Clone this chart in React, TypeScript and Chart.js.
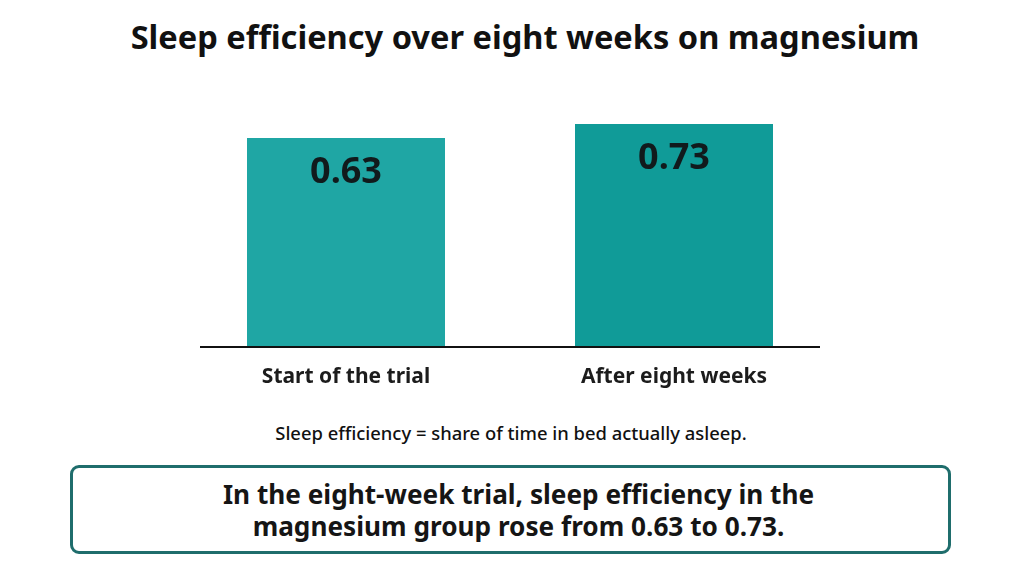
import { useEffect, useRef } from 'react';
import { Chart, ChartConfiguration, registerables } from 'chart.js';

Chart.register(...registerables);

const categories = ['Start of the trial', 'After eight weeks'];
const efficiency = [0.63, 0.73];
const barColors = ['#1fa6a4', '#109b98'];

const title = 'Sleep efficiency over eight weeks on magnesium';
const footnote = 'Sleep efficiency = share of time in bed actually asleep.';
const takeaway = [
  'In the eight-week trial, sleep efficiency in the',
  'magnesium group rose from 0.63 to 0.73.',
];

const FONT = '"Noto Sans", "Open Sans", "Liberation Sans", Arial, sans-serif';
const Y_MIN = -0.863;
const Y_MAX = 1.187;

// value labels inside the top of each bar
const valueLabels = {
  id: 'valueLabels',
  afterDatasetsDraw(chart: Chart) {
    const { ctx } = chart;
    const meta = chart.getDatasetMeta(0);
    ctx.save();
    ctx.font = `bold 36px ${FONT}`;
    ctx.fillStyle = '#111a1c';
    ctx.textAlign = 'center';
    ctx.textBaseline = 'middle';
    meta.data.forEach((bar: any, i: number) => {
      ctx.fillText(efficiency[i].toFixed(2), bar.x, bar.y + 35);
    });
    ctx.restore();
  },
};

// baseline, a bit shorter than the plot area
const baseline = {
  id: 'baseline',
  afterDatasetsDraw(chart: Chart) {
    const { ctx, chartArea } = chart;
    const y = chart.scales.y.getPixelForValue(Y_MIN);
    ctx.save();
    ctx.strokeStyle = '#111111';
    ctx.lineWidth = 2;
    ctx.beginPath();
    ctx.moveTo(chartArea.left + 18, y);
    ctx.lineTo(chartArea.right - 18, y);
    ctx.stroke();
    ctx.restore();
  },
};

function BarChart() {
  const chartRef = useRef<HTMLCanvasElement>(null);
  const chartInstance = useRef<Chart | null>(null);

  useEffect(() => {
    if (!chartRef.current) return;
    if (chartInstance.current) chartInstance.current.destroy();
    const ctx = chartRef.current.getContext('2d');
    if (!ctx) return;

    const config: ChartConfiguration = {
      type: 'bar',
      data: {
        labels: categories,
        datasets: [
          {
            label: 'Sleep efficiency',
            data: efficiency,
            backgroundColor: barColors,
            borderWidth: 0,
            base: Y_MIN,
            barPercentage: 1,
            categoryPercentage: 198 / 328,
          } as any,
        ],
      },
      options: {
        responsive: false,
        animation: false,
        layout: { padding: 0 },
        plugins: {
          legend: { display: false },
          tooltip: { enabled: false },
          title: { display: false },
        },
        scales: {
          x: {
            grid: { display: false, drawTicks: false },
            border: { display: false },
            ticks: {
              padding: 17,
              color: '#1c1c1c',
              font: { family: FONT, size: 21, weight: 'bold' },
            },
            afterFit: (scale: any) => {
              scale.height = 53;
            },
          },
          y: {
            display: false,
            min: Y_MIN,
            max: Y_MAX,
          },
        },
      },
      plugins: [valueLabels, baseline],
    };

    chartInstance.current = new Chart(ctx, config);

    return () => {
      if (chartInstance.current) {
        chartInstance.current.destroy();
        chartInstance.current = null;
      }
    };
  }, []);

  return (
    <canvas
      ref={chartRef}
      width={656}
      height={340}
      style={{ position: 'absolute', left: 182, top: 60, width: 656, height: 340 }}
    />
  );
}

export default function App() {
  return (
    <div
      style={{
        position: 'fixed',
        left: 0,
        top: 0,
        width: 1024,
        height: 576,
        background: '#ffffff',
        fontFamily: FONT,
        color: '#111111',
        overflow: 'hidden',
      }}
    >
      <div
        style={{
          position: 'absolute',
          left: 0,
          width: 1050,
          top: 16,
          textAlign: 'center',
          fontSize: 32.6,
          fontWeight: 'bold',
          lineHeight: '42px',
        }}
      >
        {title}
      </div>
      <BarChart />
      <div
        style={{
          position: 'absolute',
          left: 0,
          width: 1022,
          top: 421,
          textAlign: 'center',
          fontSize: 18.4,
          fontWeight: 500,
          lineHeight: '24px',
        }}
      >
        {footnote}
      </div>
      <div
        style={{
          position: 'absolute',
          left: 70,
          top: 465,
          width: 881,
          height: 89,
          boxSizing: 'border-box',
          border: '3px solid #1f6d6c',
          borderRadius: 9,
          paddingLeft: 16,
          display: 'flex',
          flexDirection: 'column',
          justifyContent: 'center',
          alignItems: 'center',
          fontSize: 26.2,
          fontWeight: 'bold',
          lineHeight: '32px',
          color: '#151515',
        }}
      >
        {takeaway.map((line) => (
          <div key={line}>{line}</div>
        ))}
      </div>
    </div>
  );
}
